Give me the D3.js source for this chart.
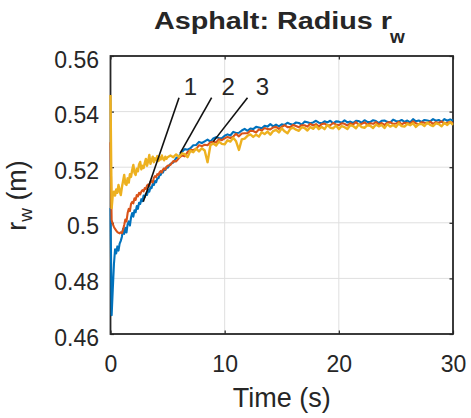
<!DOCTYPE html>
<html><head><meta charset="utf-8">
<script src="https://cdn.jsdelivr.net/npm/d3@7"></script>
<style>body{margin:0;background:#fff}svg{display:block}text{font-family:"Liberation Sans",Arial,Helvetica,sans-serif;fill:#262626}</style>
</head><body><svg id="c" width="471" height="418"></svg>
<script>
const xTicks = [0, 10, 20, 30];
const yTicks = [0.46, 0.48, 0.50, 0.52, 0.54, 0.56];
const yTickLabels = ["0.46", "0.48", "0.5", "0.52", "0.54", "0.56"];
const seriesNames = ["1", "2", "3"];

const timeA = [0,0.1,0.2,0.3,0.4,0.5,0.6,0.7,0.8,0.9,1.0,1.1,1.2,1.3,1.4,1.5,1.6,1.7,1.8,1.9,2.0,2.1,2.2,2.3,2.4,2.5,2.6,2.7,2.8,2.9,3.0,3.1,3.2,3.3,3.4,3.5,3.6,3.7,3.8,3.9,4.0,4.1,4.2,4.3,4.4,4.5,4.6,4.7,4.8,4.9,5.0];
const timeB = [5.25,5.5,5.75,6,6.25,6.5,6.75,7,7.25,7.5,7.75,8,8.25,8.5,8.75,9,9.25,9.5,9.75,10,10.25,10.5,10.75,11,11.25,11.5,11.75,12,12.25,12.5,12.75,13,13.25,13.5,13.75,14,14.25,14.5,14.75,15,15.25,15.5,15.75,16,16.25,16.5,16.75,17,17.25,17.5,17.75,18,18.25,18.5,18.75,19,19.25,19.5,19.75,20,20.25,20.5,20.75,21,21.25,21.5,21.75,22,22.25,22.5,22.75,23,23.25,23.5,23.75,24,24.25,24.5,24.75,25,25.25,25.5,25.75,26,26.25,26.5,26.75,27,27.25,27.5,27.75,28,28.25,28.5,28.75,29,29.25,29.5,29.75,30];

const blueA = [0.5053,0.4668,0.4760,0.4850,0.4905,0.4890,0.4915,0.4900,0.4925,0.4935,
0.4950,0.4978,0.4960,0.4982,0.4965,0.4995,0.5005,0.4990,0.5020,0.5035,
0.5022,0.5045,0.5038,0.5060,0.5050,0.5072,0.5068,0.5085,0.5078,0.5098,
0.5092,0.5105,0.5100,0.5118,0.5112,0.5128,0.5125,0.5140,0.5136,0.5150,
0.5146,0.5160,0.5160,0.5172,0.5172,0.5183,0.5181,0.5192,0.5190,0.5200,0.5198];
const blueB = [0.5212,0.5217,0.5233,0.5240,0.5255,0.5265,0.5263,0.5268,0.5279,0.5280,
0.5291,0.5287,0.5293,0.5299,0.5292,0.5303,0.5308,0.5305,0.5304,0.5313,
0.5318,0.5314,0.5327,0.5323,0.5324,0.5332,0.5338,0.5331,0.5339,0.5337,
0.5345,0.5343,0.5340,0.5349,0.5346,0.5355,0.5347,0.5353,0.5347,0.5354,
0.5352,0.5360,0.5355,0.5353,0.5361,0.5359,0.5353,0.5364,0.5362,0.5358,
0.5361,0.5367,0.5360,0.5358,0.5365,0.5361,0.5367,0.5358,0.5365,0.5364,
0.5360,0.5369,0.5361,0.5364,0.5359,0.5367,0.5366,0.5360,0.5369,0.5363,
0.5362,0.5369,0.5366,0.5359,0.5367,0.5368,0.5363,0.5361,0.5371,0.5366,
0.5365,0.5370,0.5363,0.5368,0.5361,0.5373,0.5365,0.5368,0.5363,0.5370,
0.5368,0.5365,0.5373,0.5367,0.5370,0.5363,0.5373,0.5367,0.5372,0.5368];

const orangeA = [0.5290,0.5010,0.4995,0.4985,0.4978,0.4972,0.4967,0.4964,0.4962,0.4966,
0.4963,0.4975,0.4992,0.5012,0.5005,0.5035,0.5050,0.5042,0.5068,0.5075,
0.5070,0.5088,0.5082,0.5100,0.5095,0.5108,0.5102,0.5112,0.5118,0.5113,
0.5125,0.5122,0.5134,0.5138,0.5133,0.5147,0.5150,0.5145,0.5162,0.5168,
0.5164,0.5175,0.5172,0.5182,0.5186,0.5181,0.5192,0.5196,0.5191,0.5201,0.5205];
const orangeB = [0.5208,0.5222,0.5221,0.5233,0.5242,0.5239,0.5254,0.5262,0.5262,0.5265,
0.5279,0.5276,0.5281,0.5279,0.5290,0.5291,0.5289,0.5301,0.5297,0.5304,
0.5309,0.5305,0.5310,0.5320,0.5311,0.5321,0.5322,0.5322,0.5331,0.5330,
0.5325,0.5336,0.5332,0.5341,0.5337,0.5336,0.5343,0.5345,0.5338,0.5345,
0.5351,0.5344,0.5344,0.5352,0.5348,0.5344,0.5351,0.5351,0.5346,0.5356,
0.5350,0.5355,0.5346,0.5355,0.5357,0.5351,0.5351,0.5359,0.5354,0.5351,
0.5358,0.5356,0.5350,0.5358,0.5354,0.5362,0.5353,0.5356,0.5361,0.5353,
0.5358,0.5356,0.5362,0.5354,0.5359,0.5352,0.5361,0.5362,0.5356,0.5357,
0.5363,0.5354,0.5360,0.5359,0.5356,0.5365,0.5358,0.5354,0.5362,0.5360,
0.5357,0.5364,0.5356,0.5362,0.5359,0.5365,0.5357,0.5360,0.5363,0.5358];

const yellowA = [0.5460,0.5053,0.5100,0.5112,0.5098,0.5120,0.5108,0.5136,0.5115,0.5100,
0.5128,0.5150,0.5172,0.5140,0.5136,0.5160,0.5145,0.5175,0.5165,0.5190,
0.5208,0.5180,0.5172,0.5195,0.5185,0.5210,0.5219,0.5192,0.5205,0.5197,
0.5215,0.5230,0.5205,0.5222,0.5244,0.5212,0.5225,0.5238,0.5218,0.5232,
0.5226,0.5240,0.5222,0.5235,0.5228,0.5242,0.5230,0.5225,0.5238,0.5230,0.5236];
const yellowB = [0.5242,0.5236,0.5246,0.5236,0.5250,0.5247,0.5236,0.5259,0.5254,0.5267,
0.5257,0.5268,0.5260,0.5218,0.5279,0.5285,0.5278,0.5292,0.5284,0.5282,
0.5297,0.5292,0.5306,0.5293,0.5262,0.5300,0.5303,0.5313,0.5318,0.5309,
0.5317,0.5310,0.5326,0.5319,0.5328,0.5317,0.5330,0.5334,0.5325,0.5340,
0.5329,0.5322,0.5338,0.5342,0.5335,0.5331,0.5344,0.5341,0.5332,0.5345,
0.5338,0.5349,0.5337,0.5345,0.5337,0.5352,0.5342,0.5340,0.5350,0.5337,
0.5348,0.5344,0.5337,0.5351,0.5348,0.5340,0.5354,0.5344,0.5342,0.5351,
0.5349,0.5341,0.5354,0.5347,0.5352,0.5341,0.5355,0.5346,0.5352,0.5345,
0.5358,0.5348,0.5346,0.5356,0.5351,0.5358,0.5345,0.5355,0.5356,0.5348,
0.5361,0.5352,0.5348,0.5358,0.5355,0.5347,0.5360,0.5352,0.5362,0.5352];

// annotation arrows: [t_start, v_start, t_end, v_end] and label anchors [t, v]
const annoLines = [[6.0, 0.5450, 2.87, 0.5076], [8.86, 0.5450, 6.09, 0.5250], [12.0, 0.5450, 9.0, 0.5292]];
const annoLabelPos = [[7.0, 0.5461], [10.3, 0.5461], [13.3, 0.5461]];

const colors = ["#0072BD", "#D95319", "#EDB120"];

const svg = d3.select("#c");
const L = 110.5, R = 453, T = 56, B = 334;
const x = d3.scaleLinear().domain([0, 30]).range([L, R]);
const y = d3.scaleLinear().domain([0.46, 0.56]).range([B, T]);

// grid
svg.append("g").selectAll("line").data(xTicks.slice(1, -1)).join("line")
  .attr("x1", d => x(d)).attr("x2", d => x(d)).attr("y1", T).attr("y2", B)
  .attr("stroke", "#dfdfdf").attr("stroke-width", 1);
svg.append("g").selectAll("line").data(yTicks.slice(1, -1)).join("line")
  .attr("x1", L).attr("x2", R).attr("y1", d => y(d)).attr("y2", d => y(d))
  .attr("stroke", "#dfdfdf").attr("stroke-width", 1);

// axes
const ax = svg.append("g").attr("transform", `translate(0,${B})`)
  .call(d3.axisBottom(x).tickValues(xTicks).tickFormat(d3.format("d")).tickSize(-3.5));
const axT = svg.append("g").attr("transform", `translate(0,${T})`)
  .call(d3.axisTop(x).tickValues(xTicks).tickFormat("").tickSize(-3.5));
const ay = svg.append("g").attr("transform", `translate(${L},0)`)
  .call(d3.axisLeft(y).tickValues(yTicks).tickFormat((d, i) => yTickLabels[i]).tickSize(-3.5));
const ayR = svg.append("g").attr("transform", `translate(${R},0)`)
  .call(d3.axisRight(y).tickValues(yTicks).tickFormat("").tickSize(-3.5));
[ax, axT, ay, ayR].forEach(g => {
  g.select(".domain").remove();
  g.selectAll(".tick line").attr("stroke", "#262626").attr("stroke-width", 1.2);
});
ax.selectAll("text").attr("y", 38).attr("dy", null)
  .style("font-size", "23px").attr("fill", "#262626");
ay.selectAll("text").attr("x", 99 - L).attr("y", 11).attr("dy", null)
  .style("font-size", "23px").attr("fill", "#262626");
svg.append("rect").attr("x", L).attr("y", T).attr("width", R - L).attr("height", B - T)
  .attr("fill", "none").attr("stroke", "#262626").attr("stroke-width", 1.8);

// series
const times = timeA.concat(timeB);
const series = [blueA.concat(blueB), orangeA.concat(orangeB), yellowA.concat(yellowB)];
const widths = [2.1, 2.1, 2.4];
const line = d3.line().x(d => x(d[0])).y(d => y(d[1]));
series.forEach((vals, i) => {
  svg.append("path").datum(times.map((t, k) => [t, vals[k]]))
    .attr("d", line).attr("fill", "none").attr("stroke", colors[i])
    .attr("stroke-width", widths[i]).attr("stroke-linejoin", "round");
});

// annotations
svg.append("g").selectAll("line").data(annoLines).join("line")
  .attr("x1", d => x(d[0])).attr("y1", d => y(d[1]))
  .attr("x2", d => x(d[2])).attr("y2", d => y(d[3]))
  .attr("stroke", "#111").attr("stroke-width", 1.6);
svg.append("g").selectAll("text").data(annoLabelPos).join("text")
  .attr("x", d => x(d[0])).attr("y", d => y(d[1]))
  .attr("text-anchor", "middle").style("font-size", "24px").attr("fill", "#111")
  .text((d, i) => seriesNames[i]);

// title
svg.append("text").attr("x", 154).attr("y", 29).style("font-size", "23px").style("font-weight", "bold")
  .attr("textLength", 238).attr("lengthAdjust", "spacingAndGlyphs").text("Asphalt: Radius r");
svg.append("text").attr("x", 390).attr("y", 43).style("font-size", "19px").style("font-weight", "bold")
  .text("w");

// x label
svg.append("text").attr("x", (L + R) / 2).attr("y", 407).attr("text-anchor", "middle")
  .style("font-size", "27px").text("Time (s)");

// y label
const yl = svg.append("text").attr("transform", "translate(26,195.5) rotate(-90)")
  .attr("text-anchor", "middle").style("font-size", "27px");
yl.append("tspan").text("r");
yl.append("tspan").attr("dy", 6).style("font-size", "19px").text("w");
yl.append("tspan").attr("dy", -6).text(" (m)");
</script></body></html>
